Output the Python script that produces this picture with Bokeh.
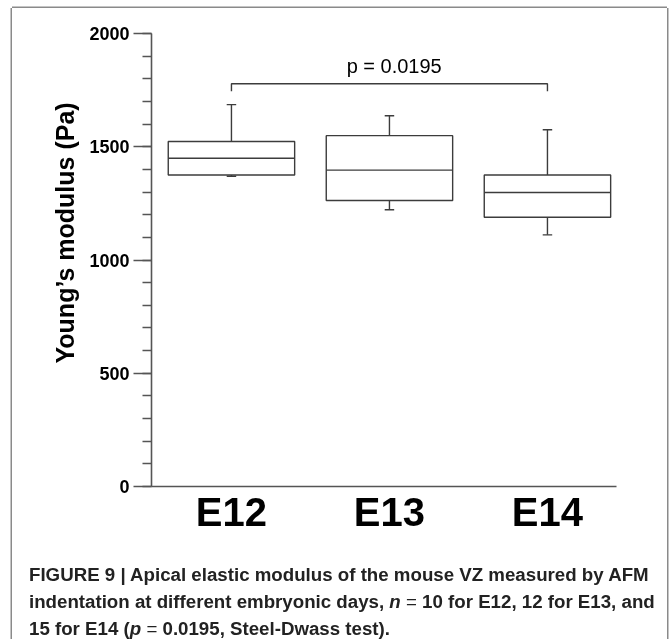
from bokeh.plotting import figure
from bokeh.models import (Range1d, SingleIntervalTicker, FixedTicker, Label, Div, Title)
from bokeh.layouts import column
from bokeh.embed import file_html
from bokeh.resources import INLINE

# ---- data ----
categories = ["E12", "E13", "E14"]
whisker_low = [1370, 1222, 1111]
q1 = [1375, 1263, 1189]
median = [1449, 1397, 1298]
q3 = [1523, 1549, 1375]
whisker_high = [1686, 1637, 1575]

y_ticks_interval = 500
bracket_groups = ["E12", "E14"]
bracket_top = 1778
bracket_tip = 1745
p_text = "p = 0.0195"
p_text_y = 1857
y_label = "Young\u2019s modulus (Pa)"

caption_html = (
    "FIGURE 9 | Apical elastic modulus of the mouse VZ measured by AFM<br>"
    "indentation at different embryonic days, <i>n</i> <span style='font-weight:normal'>=</span> 10 for E12, 12 for E13, and<br>"
    "15 for E14 (<i>p</i> <span style='font-weight:normal'>=</span> 0.0195, Steel-Dwass test)."
)

FONT = "Liberation Sans"
LINE = "#3c3c3c"
AXIS = "#555555"

xpos = [i + 1 for i in range(len(categories))]
box_w = 0.8
cap_w = 0.06

p = figure(width=655, height=537,
           x_range=Range1d(0.494, 3.437), y_range=Range1d(0, 2000),
           output_backend="svg", toolbar_location=None,
           min_border_left=139, min_border_right=51,
           min_border_top=25, min_border_bottom=59)
p.outline_line_color = None
p.xgrid.visible = False
p.ygrid.visible = False
p.background_fill_color = "white"
p.border_fill_color = "white"

# y axis
ya = p.yaxis[0]
ya.ticker = SingleIntervalTicker(interval=y_ticks_interval, num_minor_ticks=5)
ya.axis_line_color = AXIS
ya.axis_line_width = 1.6
ya.major_tick_line_color = AXIS
ya.major_tick_line_width = 1.6
ya.minor_tick_line_color = AXIS
ya.minor_tick_line_width = 1.6
ya.major_tick_out = 18
ya.major_tick_in = 0
ya.minor_tick_out = 9
ya.minor_tick_in = 0
ya.major_label_text_font = FONT
ya.major_label_text_font_style = "bold"
ya.major_label_text_font_size = "18px"
ya.major_label_text_color = "black"
ya.major_label_standoff = 4

# x axis
xa = p.xaxis[0]
xa.ticker = FixedTicker(ticks=xpos)
xa.major_label_overrides = {x: c for x, c in zip(xpos, categories)}
xa.axis_line_color = AXIS
xa.axis_line_width = 1.6
xa.major_tick_line_color = None
xa.minor_tick_line_color = None
xa.major_tick_out = 0
xa.major_tick_in = 0
xa.major_label_text_font = FONT
xa.major_label_text_font_style = "bold"
xa.major_label_text_font_size = "40px"
xa.major_label_text_color = "black"
xa.major_label_standoff = 3

# y axis title (left panel)
p.add_layout(Title(text=y_label, align="left", offset=123, standoff=16,
                   text_font=FONT, text_font_style="bold", text_font_size="25px",
                   text_color="black"), "left")

# boxes
p.vbar(x=xpos, top=q3, bottom=q1, width=box_w, fill_color="white",
       line_color=LINE, line_width=1.4)
p.segment(x0=[x - box_w / 2 for x in xpos], x1=[x + box_w / 2 for x in xpos],
          y0=median, y1=median, line_color=LINE, line_width=1.4)
# whiskers
p.segment(x0=xpos, x1=xpos, y0=q3, y1=whisker_high, line_color=LINE, line_width=1.4)
p.segment(x0=xpos, x1=xpos, y0=q1, y1=whisker_low, line_color=LINE, line_width=1.4)
p.segment(x0=[x - cap_w / 2 for x in xpos], x1=[x + cap_w / 2 for x in xpos],
          y0=whisker_high, y1=whisker_high, line_color=LINE, line_width=1.4)
p.segment(x0=[x - cap_w / 2 for x in xpos], x1=[x + cap_w / 2 for x in xpos],
          y0=whisker_low, y1=whisker_low, line_color=LINE, line_width=1.4)

# significance bracket
bx0 = xpos[categories.index(bracket_groups[0])]
bx1 = xpos[categories.index(bracket_groups[1])]
p.line(x=[bx0, bx0, bx1, bx1], y=[bracket_tip, bracket_top, bracket_top, bracket_tip],
       line_color=LINE, line_width=1.4)
p.add_layout(Label(x=(bx0 + bx1) / 2 + 0.03, y=p_text_y, text=p_text,
                   text_font=FONT, text_font_size="20px", text_color="black",
                   text_align="center", text_baseline="alphabetic"))

cap = Div(text=("<div style=\"font-family:'Liberation Sans';font-weight:bold;font-size:18.7px;"
                "line-height:27px;white-space:nowrap;color:#222;padding:11px 0 0 12px;\">"
                + caption_html + "</div>"),
          width=655, height=94)

layout = column(p, cap, spacing=0,
                styles={"position": "fixed", "top": "8px", "left": "12px",
                        "width": "655px", "height": "631px",
                        "background": "white",
                        "box-shadow": "-1.5px 0 0 0 #8a8a8a, 1.5px 0 0 0 #8a8a8a, 0 -1.5px 0 0 #8a8a8a"})

open("out.html", "w").write(file_html(layout, INLINE))
